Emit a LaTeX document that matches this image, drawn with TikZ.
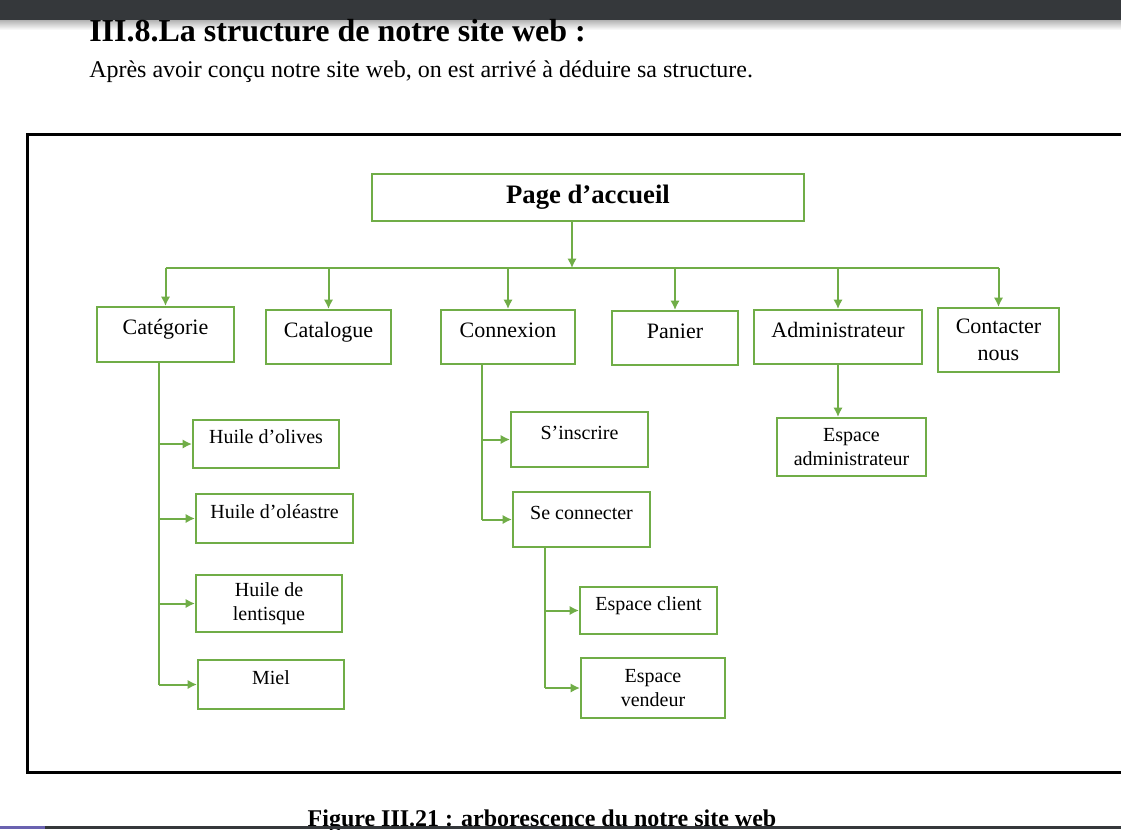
\documentclass[tikz,border=0pt]{standalone}
\usepackage{fontspec}
\setmainfont{Liberation Serif}
\usepackage{tikz}
\usetikzlibrary{arrows.meta}

\definecolor{boxgreen}{HTML}{70AD47}
\definecolor{bargray}{HTML}{35383B}
\definecolor{barblue}{HTML}{6A62B0}

\begin{document}
\begin{tikzpicture}[x=0.75pt, y=-0.75pt, >={Latex[length=7pt, width=7pt]},
        box/.style={draw=boxgreen, line width=1.5pt, inner sep=0pt, align=center},
        mainbox/.style={box, font=\fontsize{16.5}{20}\selectfont, text height=6pt, text depth=6pt},
        subbox/.style={box, font=\fontsize{15}{18}\selectfont},
        raised/.style={text height=6pt, text depth=6.5pt},
        link/.style={draw=boxgreen, line width=1.5pt}]
        \useasboundingbox (0,0) rectangle (1121,829);
        \clip (0,0) rectangle (1121,829);

        \fill[bargray] (0,0) rectangle (1121,20);
        \shade[top color=black!30, bottom color=white] (0,20) rectangle (1121,30);
        \draw (89,41) node [anchor=base west, inner sep=0pt, font=\fontsize{24}{28}\selectfont\bfseries] (title) {III.8.La structure de notre site web :};
        \draw (89,77) node [anchor=base west, inner sep=0pt, font=\fontsize{18}{22}\selectfont] (intro) {Après avoir conçu notre site web, on est arrivé à déduire sa structure.};

        \draw[line width=2.25pt] (27,134) rectangle (1140,772);

        \draw (588,197.5) node [box, minimum width=324pt, minimum height=35.25pt, font=\fontsize{20}{24}\selectfont\bfseries] (page) {Page d’accueil};

        \draw (165.5,334.5) node [mainbox, minimum width=102.75pt, minimum height=41.25pt] (cat) {Catégorie};
        \draw (328.5,337) node [mainbox, minimum width=93.75pt, minimum height=40.5pt] (catal) {Catalogue};
        \draw (508,337) node [mainbox, minimum width=100.5pt, minimum height=40.5pt] (conn) {Connexion};
        \draw (675,338) node [mainbox, minimum width=94.5pt, minimum height=40.5pt] (panier) {Panier};
        \draw (838,337) node [mainbox, minimum width=126pt, minimum height=40.5pt] (admin) {Administrateur};
        \draw (998.5,340) node [box, font=\fontsize{16.5}{20}\selectfont, minimum width=90.75pt, minimum height=48pt] (contact) {Contacter\\nous};

        \draw (266,444) node [subbox, raised, minimum width=109.5pt, minimum height=36pt] (olives) {Huile d’olives};
        \draw (274.5,518.5) node [subbox, raised, minimum width=117.75pt, minimum height=36.75pt] (oleastre) {Huile d’oléastre};
        \draw (269,603.5) node [subbox, minimum width=109.5pt, minimum height=42.75pt] (lentisque) {Huile de\\lentisque};
        \draw (271,684.5) node [subbox, raised, minimum width=109.5pt, minimum height=36.75pt] (miel) {Miel};

        \draw (579.5,439.5) node [subbox, raised, minimum width=102.75pt, minimum height=41.25pt] (inscrire) {S’inscrire};
        \draw (581.5,519.5) node [subbox, raised, minimum width=102.75pt, minimum height=41.25pt] (seconn) {Se connecter};
        \draw (648.5,610.5) node [subbox, raised, minimum width=102.75pt, minimum height=35.25pt] (eclient) {Espace client};
        \draw (653,688) node [subbox, minimum width=108pt, minimum height=45pt] (evendeur) {Espace\\vendeur};

        \draw (851.5,447) node [subbox, minimum width=111.75pt, minimum height=43.5pt] (eadmin) {Espace\\administrateur};

        \coordinate (bus) at (572,268);
        \draw[link, ->] (page.south -| bus) -- (bus);
        \draw[link] (cat.north |- bus) -- (contact.north |- bus);
        \foreach \n in {cat, catal, conn, panier, admin, contact}
                \draw[link, ->] (\n.north |- bus) -- (\n.north);

        \coordinate (cattrunk) at (159,0);
        \draw[link] (cat.south -| cattrunk) -- (miel.west -| cattrunk);
        \foreach \n in {olives, oleastre, lentisque, miel}
                \draw[link, ->] (\n.west -| cattrunk) -- (\n.west);

        \coordinate (conntrunk) at (482,0);
        \draw[link] (conn.south -| conntrunk) -- (seconn.west -| conntrunk);
        \foreach \n in {inscrire, seconn}
                \draw[link, ->] (\n.west -| conntrunk) -- (\n.west);

        \coordinate (sctrunk) at (545,0);
        \draw[link] (seconn.south -| sctrunk) -- (evendeur.west -| sctrunk);
        \foreach \n in {eclient, evendeur}
                \draw[link, ->] (\n.west -| sctrunk) -- (\n.west);

        \draw[link, ->] (admin.south) -- (admin.south |- eadmin.north);

        \draw (542,826) node [anchor=base, inner sep=0pt, font=\fontsize{18}{22}\selectfont\bfseries] (caption) {Figure III.21 : arborescence du notre site web};
        \fill[bargray] (0,826) rectangle (1121,829);
        \fill[barblue] (0,826) rectangle (45,829);
    \end{tikzpicture}
\end{document}
